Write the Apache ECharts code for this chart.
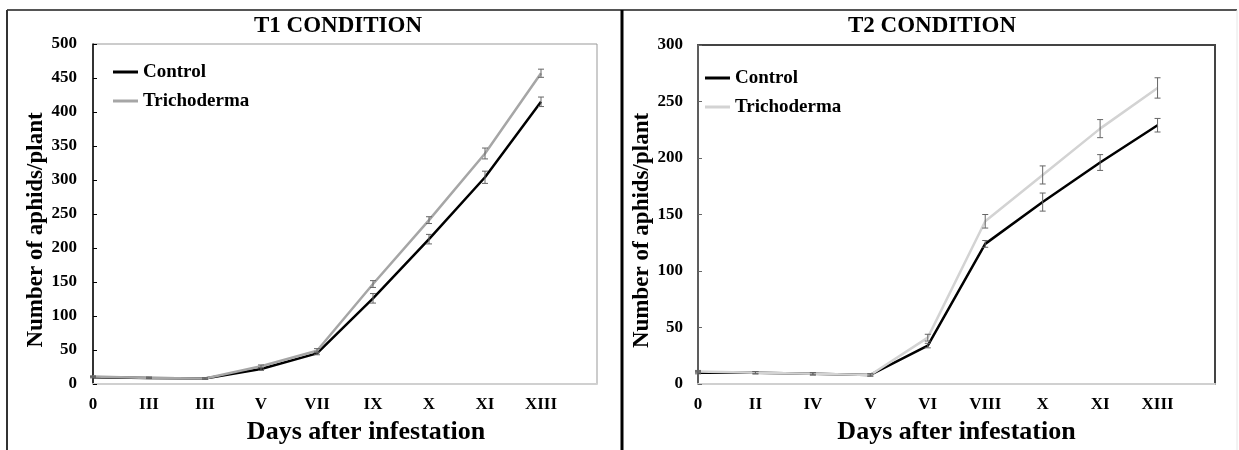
<!DOCTYPE html>
<html>
<head>
<meta charset="utf-8">
<script src="https://cdn.jsdelivr.net/npm/echarts@6/dist/echarts.min.js"></script>
<style>
  html, body { margin: 0; padding: 0; background: #fff; }
  #chart { width: 1239px; height: 450px; }
</style>
</head>
<body>
<div id="chart"></div>
<script>
// T1 condition
const daysT1 = ['0', 'III', 'III', 'V', 'VII', 'IX', 'X', 'XI', 'XIII', ''];
const controlT1 = [10, 9, 8, 22, 45, 126, 213, 304, 415];
const trichoT1 = [11, 9, 8, 26, 49, 147, 241, 339, 457];
const controlT1Err = [1, 1, 1, 2, 2, 7, 7, 9, 7];
const trichoT1Err = [1, 1, 1, 2, 3, 5, 5, 8, 6];

// T2 condition
const daysT2 = ['0', 'II', 'IV', 'V', 'VI', 'VIII', 'X', 'XI', 'XIII', ''];
const controlT2 = [10, 10, 9, 8, 34, 124, 161, 196, 229];
const trichoT2 = [11, 10, 9, 8, 41, 144, 185, 226, 262];
const controlT2Err = [1, 1, 1, 1, 2, 3, 8, 7, 6];
const trichoT2Err = [1, 1, 1, 1, 3, 6, 8, 8, 9];

const FONT = 'Liberation Serif';

// pairs [index, value, err] for the error bar series
function errData(vals, errs) {
  return vals.map((v, i) => [i, v, errs[i]]);
}

function renderErr(params, api) {
  const x = api.value(0);
  const v = api.value(1);
  const e = api.value(2);
  const hi = api.coord([x, v + e]);
  const lo = api.coord([x, v - e]);
  const w = 3;
  const st = { stroke: '#666', lineWidth: 1 };
  return {
    type: 'group',
    children: [
      { type: 'line', shape: { x1: hi[0], y1: hi[1], x2: lo[0], y2: lo[1] }, style: st },
      { type: 'line', shape: { x1: hi[0] - w, y1: hi[1], x2: hi[0] + w, y2: hi[1] }, style: st },
      { type: 'line', shape: { x1: lo[0] - w, y1: lo[1], x2: lo[0] + w, y2: lo[1] }, style: st }
    ]
  };
}

function xAxisOf(days, gridIndex, namePad) {
  return {
    type: 'category',
    gridIndex: gridIndex,
    data: days,
    boundaryGap: false,
    name: 'Days after infestation',
    nameLocation: 'middle',
    nameGap: 35,
    nameTextStyle: { fontFamily: FONT, fontWeight: 'bold', fontSize: 26, color: '#000', padding: namePad },
    axisLine: { lineStyle: { color: '#d0d0d0', width: 2 } },
    axisTick: { show: false },
    axisLabel: { interval: 0, margin: 12, fontFamily: FONT, fontWeight: 'bold', fontSize: 17, color: '#000' },
    splitLine: { show: false }
  };
}

function yAxisOf(max, gridIndex, lineColor, margin) {
  return {
    type: 'value',
    gridIndex: gridIndex,
    min: 0,
    max: max,
    interval: 50,
    name: 'Number of aphids/plant',
    nameLocation: 'middle',
    nameGap: 43,
    nameTextStyle: { fontFamily: FONT, fontWeight: 'bold', fontSize: 23, color: '#000', padding: [0, 32, 0, 0] },
    axisLine: { show: true, lineStyle: { color: lineColor, width: 1.5 } },
    axisTick: { show: true, inside: true, length: 4, lineStyle: { color: lineColor } },
    axisLabel: { margin: margin, fontFamily: FONT, fontWeight: 'bold', fontSize: 17, color: '#000' },
    splitLine: { show: false }
  };
}

function legendOf(left, top, trichoColor) {
  return {
    orient: 'vertical',
    left: left,
    top: top,
    padding: 0,
    icon: 'rect',
    itemWidth: 25,
    itemHeight: 3,
    itemGap: 9,
    textStyle: { fontFamily: FONT, fontWeight: 'bold', fontSize: 19, color: '#000', lineHeight: 20 },
    data: [
      { name: 'Control', itemStyle: { color: '#000' } },
      { name: 'Trichoderma', itemStyle: { color: trichoColor } }
    ]
  };
}

const chart = echarts.init(document.getElementById('chart'));

const option = {
  animation: false,
  backgroundColor: '#fff',
  title: [
    {
      text: 'T1 CONDITION', left: 338, top: 15, textAlign: 'center', padding: 0,
      textStyle: { fontFamily: FONT, fontWeight: 'bold', fontSize: 23, color: '#000' }
    },
    {
      text: 'T2 CONDITION', left: 932, top: 15, textAlign: 'center', padding: 0,
      textStyle: { fontFamily: FONT, fontWeight: 'bold', fontSize: 23, color: '#000' }
    }
  ],
  legend: [
    legendOf(113, 62, '#a6a6a6'),
    legendOf(705, 68, '#d3d3d3')
  ],
  grid: [
    { left: 93, top: 44, right: 642, bottom: 63, show: true, borderColor: '#999', borderWidth: 1 },
    { left: 698, top: 45, right: 24, bottom: 63, show: true, borderColor: '#444', borderWidth: 2 }
  ],
  xAxis: [xAxisOf(daysT1, 0, [0, 0, 0, 42]), xAxisOf(daysT2, 1, 0)],
  yAxis: [yAxisOf(500, 0, '#000', 16), yAxisOf(300, 1, '#666', 15)],
  graphic: [
    { type: 'line', shape: { x1: 7, y1: 10, x2: 1237, y2: 10 }, style: { stroke: '#555', lineWidth: 2 } },
    { type: 'line', shape: { x1: 7, y1: 10, x2: 7, y2: 450 }, style: { stroke: '#333', lineWidth: 2 } },
    { type: 'line', shape: { x1: 622, y1: 10, x2: 622, y2: 450 }, style: { stroke: '#000', lineWidth: 3 } },
    { type: 'line', shape: { x1: 1237, y1: 10, x2: 1237, y2: 450 }, style: { stroke: '#e6e6e6', lineWidth: 1 } }
  ],
  series: [
    {
      name: 'Control', type: 'line', xAxisIndex: 0, yAxisIndex: 0,
      data: controlT1, symbol: 'none', lineStyle: { color: '#000', width: 2.5 }, itemStyle: { color: '#000' }
    },
    {
      name: 'Trichoderma', type: 'line', xAxisIndex: 0, yAxisIndex: 0,
      data: trichoT1, symbol: 'none', lineStyle: { color: '#a6a6a6', width: 2.5 }, itemStyle: { color: '#a6a6a6' }
    },
    {
      name: 'Control', type: 'line', xAxisIndex: 1, yAxisIndex: 1,
      data: controlT2, symbol: 'none', lineStyle: { color: '#000', width: 2.5 }, itemStyle: { color: '#000' }
    },
    {
      name: 'Trichoderma', type: 'line', xAxisIndex: 1, yAxisIndex: 1,
      data: trichoT2, symbol: 'none', lineStyle: { color: '#d3d3d3', width: 2.5 }, itemStyle: { color: '#d3d3d3' }
    },
    // error bars
    { name: 'errC1', type: 'custom', xAxisIndex: 0, yAxisIndex: 0, renderItem: renderErr, data: errData(controlT1, controlT1Err), z: 5 },
    { name: 'errT1', type: 'custom', xAxisIndex: 0, yAxisIndex: 0, renderItem: renderErr, data: errData(trichoT1, trichoT1Err), z: 5 },
    { name: 'errC2', type: 'custom', xAxisIndex: 1, yAxisIndex: 1, renderItem: renderErr, data: errData(controlT2, controlT2Err), z: 5 },
    { name: 'errT2', type: 'custom', xAxisIndex: 1, yAxisIndex: 1, renderItem: renderErr, data: errData(trichoT2, trichoT2Err), z: 5 }
  ]
};

chart.setOption(option);
window.onresize = function () { chart.resize(); };
</script>
</body>
</html>
